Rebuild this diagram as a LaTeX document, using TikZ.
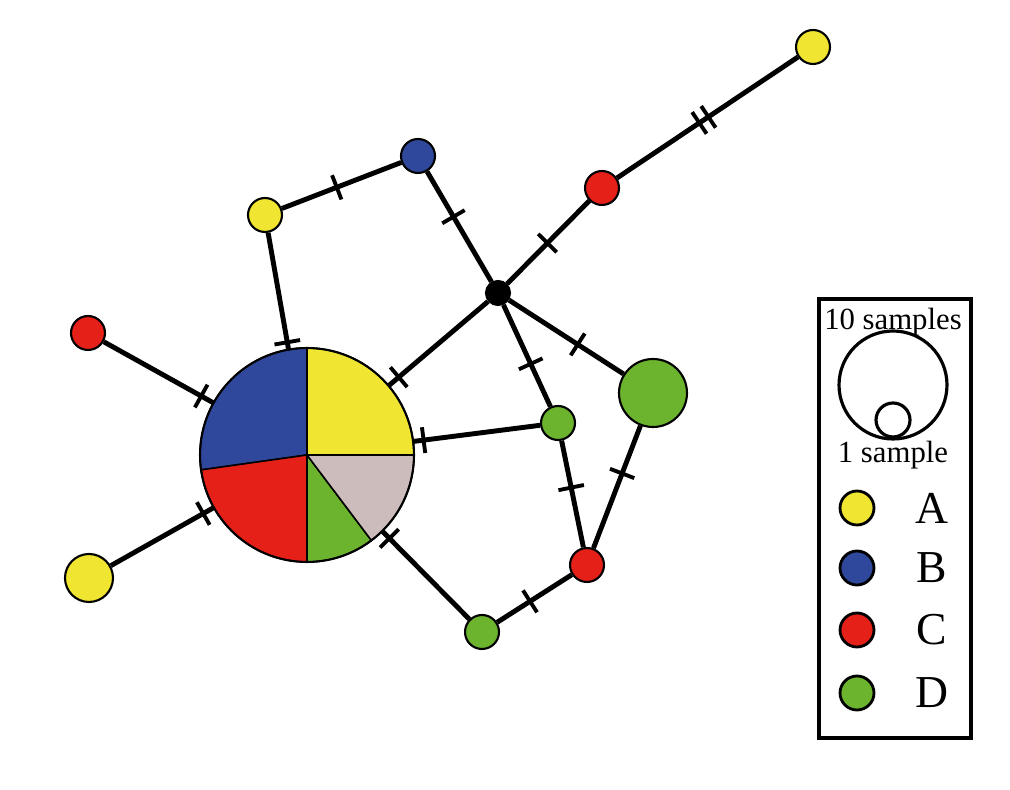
\documentclass[tikz,border=0pt]{standalone}
\usepackage{fontspec}
\setmainfont{Liberation Serif}
\definecolor{hapyellow}{RGB}{240,230,50}
\definecolor{hapblue}{RGB}{47,72,156}
\definecolor{hapred}{RGB}{228,32,24}
\definecolor{hapgreen}{RGB}{108,180,46}
\definecolor{hapgrey}{RGB}{205,188,188}
\tikzset{
	hap/.style={circle,draw,line width=1.2pt,inner sep=0pt,minimum size=0.68cm},
	hapline/.style={line width=2.8pt},
	tickmark/.style={draw,line width=2.2pt,inner sep=0pt,outer sep=0pt,minimum width=0pt,minimum height=0.52cm,sloped},
	keytext/.style={font=\fontsize{17.5}{19}\selectfont},
	keyletter/.style={font=\fontsize{26}{28}\selectfont}
}

\begin{document}
\begin{tikzpicture}[x=0.02cm,y=0.02cm]
	\useasboundingbox (0,0) rectangle (1010,790);
	% big haplotype as a pie
	\node[circle,inner sep=0pt,minimum size=4.28cm] (pie) at (307,335) {};
	\foreach \a/\b/\c in {0/90/hapyellow,90/188/hapblue,188/270/hapred,270/307/hapgreen,307/360/hapgrey}
		\filldraw[fill=\c,line width=0.9pt] (pie.center) -- ++(\a:2.14cm) arc[start angle=\a,end angle=\b,radius=2.14cm] -- cycle;
	\draw[line width=1.2pt] (pie.center) circle (2.14cm);
	\node[hap,fill=black,minimum size=0.48cm] (K) at (498,497) {};
	\node[hap,fill=hapblue] (B1) at (418,634) {};
	\node[hap,fill=hapyellow] (Y1) at (265,575) {};
	\node[hap,fill=hapred] (R1) at (88,457) {};
	\node[hap,fill=hapyellow,minimum size=0.96cm] (Y2) at (89,212) {};
	\node[hap,fill=hapred] (R2) at (602,602) {};
	\node[hap,fill=hapyellow] (Y3) at (813,743) {};
	\node[hap,fill=hapgreen] (G1) at (558,367) {};
	\node[hap,fill=hapgreen,minimum size=1.36cm] (G2) at (653,397) {};
	\node[hap,fill=hapred] (R3) at (587,225) {};
	\node[hap,fill=hapgreen] (G3) at (482,158) {};
	\draw[hapline] (Y1) -- node[tickmark,pos=.46]{} (B1);
	\draw[hapline] (B1) -- node[tickmark,pos=.41]{} (K);
	\draw[hapline] (K) -- node[tickmark,pos=.49]{} (R2);
	\draw[hapline] (R2) -- node[tickmark,pos=.455]{} node[tickmark,pos=.505]{} (Y3);
	\draw[hapline] (Y1) -- node[tickmark,pos=.94]{} (pie);
	\draw[hapline] (R1) -- node[tickmark,pos=.89]{} (pie);
	\draw[hapline] (Y2) -- node[tickmark,pos=.90]{} (pie);
	\draw[hapline] (K) -- node[tickmark,pos=.90]{} (pie);
	\draw[hapline] (G1) -- node[tickmark,pos=.92]{} (pie);
	\draw[hapline] (pie) -- node[tickmark,pos=.08]{} (G3);
	\draw[hapline] (K) -- node[tickmark,pos=.58]{} (G1);
	\draw[hapline] (K) -- node[tickmark,pos=.60]{} (G2);
	\draw[hapline] (G1) -- node[tickmark,pos=.44]{} (R3);
	\draw[hapline] (G2) -- node[tickmark,pos=.39]{} (R3);
	\draw[hapline] (R3) -- node[tickmark,pos=.56]{} (G3);
	% legend
	\draw[line width=1.9pt] (819,52) rectangle (971,491);
	\node[keytext] (ten) at (893,468) {10 samples};
	\draw[line width=1.8pt] (893,405) circle (1.08cm);
	\draw[line width=1.8pt] (893,370) circle (0.34cm);
	\node[keytext] (one) at (893,335) {1 sample};
	\foreach \c/\t/\y in {hapyellow/A/282,hapblue/B/222,hapred/C/160,hapgreen/D/97} {
		\node[hap,fill=\c,line width=1.6pt] (key\t) at (857,\y) {};
		\node[keyletter] (lab\t) at (932,\y) {\t};
	}
\end{tikzpicture}
\end{document}
